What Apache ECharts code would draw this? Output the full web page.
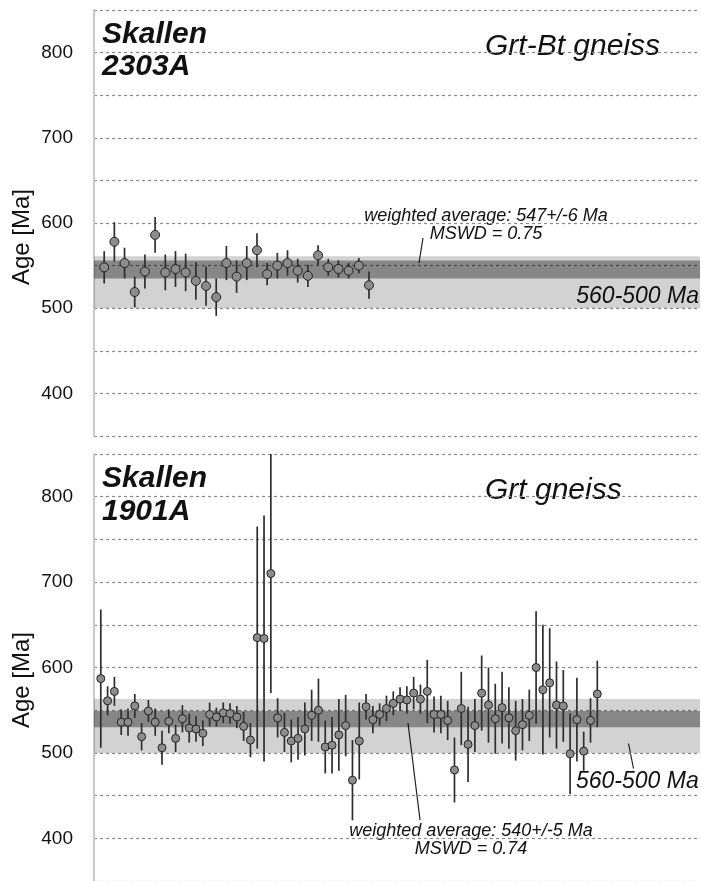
<!DOCTYPE html>
<html>
<head>
<meta charset="utf-8">
<script src="https://cdn.jsdelivr.net/npm/echarts@6.0.0/dist/echarts.min.js"></script>
<style>
  html, body { margin: 0; padding: 0; background: #fff; }
  #chart { width: 702px; height: 881px; }
</style>
</head>
<body>
<div id="chart"></div>
<script>
// sample 2303A (Grt-Bt gneiss): spot ages and 2s errors, Ma
var ages2303 = [548, 578, 553, 519, 543, 586, 542, 546, 542, 532, 526, 513, 553, 537, 553, 568, 540, 550, 553, 544, 538, 562, 548, 546, 544, 550, 527];
var err2303 = [19, 23, 18, 18, 20, 21, 21, 21, 22, 22, 23, 22, 20, 19, 20, 20, 13, 15, 15, 14, 13, 12, 10, 10, 9, 9, 16];

// sample 1901A (Grt gneiss)
var ages1901 = [587, 561, 572, 536, 536, 555, 519, 549, 536, 506, 537, 517, 540, 529, 528, 523, 545, 542, 547, 546,
    542, 531, 515, 635, 634, 710, 541, 524, 514, 517, 528, 544, 550, 507, 509, 521, 532, 468, 514, 554,
    539, 545, 552, 558, 563, 562, 570, 563, 572, 545, 545, 538, 480, 552, 510, 532, 570, 556, 540, 553,
    541, 526, 533, 544, 600, 574, 582, 556, 555, 499, 539, 502, 538, 569];
var err1901 = [81, 17, 17, 15, 16, 14, 16, 13, 16, 20, 14, 16, 16, 17, 15, 15, 14, 11, 12, 12,
    13, 17, 20, 130, 144, 140, 23, 23, 25, 25, 31, 30, 37, 31, 33, 42, 36, 47, 45, 15,
    16, 13, 15, 14, 14, 16, 19, 17, 37, 21, 22, 23, 38, 43, 44, 31, 44, 44, 41, 42,
    36, 35, 30, 30, 66, 76, 64, 51, 42, 47, 49, 23, 26, 39];

// shaded bands: 560-500 Ma window and weighted average
var window2303 = [500, 561];
var wavg2303 = [535, 556];
var window1901 = [500, 563];
var wavg1901 = [530, 549];

var yTicks = [400, 500, 600, 700, 800];

var FONT = 'Liberation Sans';

function pointData (ages) {
    return ages.map(function (a, i) { return [i + 1, a]; });
}
function barData (ages, errs) {
    return ages.map(function (a, i) { return [i + 1, a - errs[i], a + errs[i]]; });
}

function errorBarItem (params, api) {
    var x = api.value(0);
    var lo = api.coord([x, api.value(1)]);
    var hi = api.coord([x, api.value(2)]);
    return {
        type: 'line',
        shape: { x1: lo[0], y1: lo[1], x2: hi[0], y2: hi[1] },
        style: { stroke: '#2e2e2e', lineWidth: 1.7 }
    };
}

function yAxisFor (gridIndex) {
    return {
        type: 'value',
        gridIndex: gridIndex,
        min: 350,
        max: 850,
        interval: 50,
        axisLine: { show: true, lineStyle: { color: '#cacaca', width: 2 } },
        axisTick: { show: false },
        axisLabel: {
            margin: 21,
            fontFamily: FONT,
            fontSize: 19,
            color: '#111',
            formatter: function (v) { return yTicks.indexOf(v) >= 0 ? String(v) : ''; }
        },
        splitLine: { show: true, lineStyle: { color: '#8a8a8a', type: [3, 3], width: 1.2 } }
    };
}

function bandSeries (idx, win, wavg) {
    return {
        type: 'line',
        xAxisIndex: idx,
        yAxisIndex: idx,
        data: [],
        z: 1,
        silent: true,
        markArea: {
            silent: true,
            data: [
                [{ yAxis: win[1], itemStyle: { color: 'rgba(0,0,0,0.175)' } }, { yAxis: win[0] }],
                [{ yAxis: wavg[1], itemStyle: { color: 'rgba(0,0,0,0.355)' } }, { yAxis: wavg[0] }]
            ]
        }
    };
}

function txt (x, y, s, size, opts) {
    opts = opts || {};
    return {
        type: 'text',
        x: x,
        y: y,
        rotation: opts.rotation || 0,
        style: {
            text: s,
            fill: '#111',
            font: (opts.italic === false ? '' : 'italic ') + (opts.bold ? 'bold ' : '') + size + 'px "' + FONT + '"',
            textAlign: opts.align || 'left',
            textVerticalAlign: 'middle'
        }
    };
}
function leader (x1, y1, x2, y2) {
    return {
        type: 'line',
        shape: { x1: x1, y1: y1, x2: x2, y2: y2 },
        style: { stroke: '#222', lineWidth: 1.2 }
    };
}

var chart = echarts.init(document.getElementById('chart'), null, { renderer: 'canvas' });

chart.setOption({
    animation: false,
    backgroundColor: '#fff',
    grid: [
        { left: 94, right: 2, top: 10, height: 426 },
        { left: 94, right: 2, top: 454, height: 427 }
    ],
    xAxis: [
        { type: 'value', gridIndex: 0, min: 0, max: 59.5, show: false },
        { type: 'value', gridIndex: 1, min: 0, max: 89.1, show: false }
    ],
    yAxis: [yAxisFor(0), yAxisFor(1)],
    series: [
        bandSeries(0, window2303, wavg2303),
        bandSeries(1, window1901, wavg1901),
        {
            type: 'custom',
            xAxisIndex: 0,
            yAxisIndex: 0,
            z: 2,
            renderItem: errorBarItem,
            encode: { x: 0, y: [1, 2] },
            data: barData(ages2303, err2303)
        },
        {
            type: 'custom',
            xAxisIndex: 1,
            yAxisIndex: 1,
            z: 2,
            renderItem: errorBarItem,
            encode: { x: 0, y: [1, 2] },
            data: barData(ages1901, err1901)
        },
        {
            type: 'scatter',
            xAxisIndex: 0,
            yAxisIndex: 0,
            z: 3,
            symbol: 'circle',
            symbolSize: 9,
            itemStyle: { color: '#8c8c8c', borderColor: '#222', borderWidth: 1, opacity: 1 },
            data: pointData(ages2303)
        },
        {
            type: 'scatter',
            xAxisIndex: 1,
            yAxisIndex: 1,
            z: 3,
            symbol: 'circle',
            symbolSize: 8,
            itemStyle: { color: '#8c8c8c', borderColor: '#222', borderWidth: 1, opacity: 1 },
            data: pointData(ages1901)
        }
    ],
    graphic: [
        // top panel
        txt(22, 237, 'Age [Ma]', 24, { italic: false, rotation: Math.PI / 2, align: 'center' }),
        txt(102, 35, 'Skallen', 30, { bold: true }),
        txt(102, 67, '2303A', 30, { bold: true }),
        txt(485, 47, 'Grt-Bt gneiss', 30),
        txt(486, 216, 'weighted average: 547+/-6 Ma', 18, { align: 'center' }),
        txt(486, 234, 'MSWD = 0.75', 18, { align: 'center' }),
        leader(423, 238, 419, 263),
        txt(699, 297, '560-500 Ma', 23, { align: 'right' }),
        // bottom panel
        txt(22, 680, 'Age [Ma]', 24, { italic: false, rotation: Math.PI / 2, align: 'center' }),
        txt(102, 479, 'Skallen', 30, { bold: true }),
        txt(102, 512, '1901A', 30, { bold: true }),
        txt(485, 491, 'Grt gneiss', 30),
        leader(408, 723, 420, 820),
        txt(471, 831, 'weighted average: 540+/-5 Ma', 18, { align: 'center' }),
        txt(471, 849, 'MSWD = 0.74', 18, { align: 'center' }),
        leader(628.5, 743.5, 633.5, 768.5),
        txt(576, 782, '560-500 Ma', 23)
    ]
});
</script>
</body>
</html>
